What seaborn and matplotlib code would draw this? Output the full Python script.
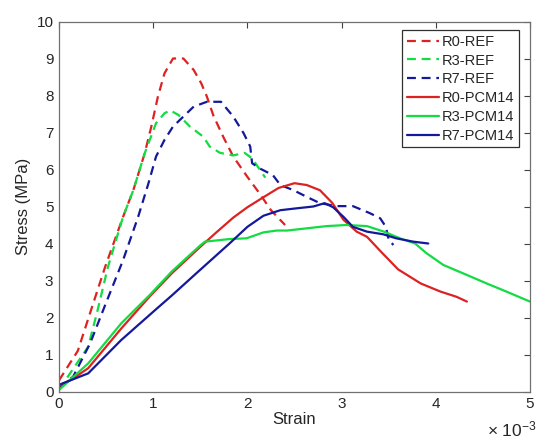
import numpy as np
import pandas as pd
import matplotlib
matplotlib.use("Agg")
import matplotlib.pyplot as plt
import seaborn as sns

# ---- data (strain in 1e-3, stress in MPa) ----
r0_ref_x = [0, 0.2, 0.34, 0.49, 0.68, 0.79, 0.91, 0.98, 1.05, 1.12, 1.21, 1.32, 1.43, 1.51, 1.57, 1.64,
            1.75, 1.85, 2.0, 2.13, 2.25, 2.4]
r0_ref_y = [0.3, 1.1, 2.2, 3.37, 4.72, 5.45, 6.44, 7.16, 7.97, 8.6, 9.0, 9.0, 8.69, 8.33, 7.97, 7.45,
            6.85, 6.35, 5.8, 5.35, 4.9, 4.5]

r3_ref_x = [0, 0.2, 0.31, 0.41, 0.52, 0.68, 0.79, 0.91, 1.03, 1.12, 1.18, 1.27, 1.39, 1.53, 1.6, 1.71,
            1.85, 1.97, 2.05, 2.19]
r3_ref_y = [0.05, 0.8, 1.21, 2.2, 3.37, 4.72, 5.45, 6.44, 7.25, 7.52, 7.6, 7.47, 7.16, 6.89, 6.62, 6.45,
            6.38, 6.45, 6.3, 5.78]

r7_ref_x = [0, 0.15, 0.33, 0.5, 0.68, 0.84, 0.95, 1.03, 1.12, 1.21, 1.32, 1.43, 1.57, 1.72, 1.85, 1.96,
            2.03, 2.05, 2.13, 2.27, 2.35, 2.49, 2.63, 2.77, 2.95, 3.12, 3.3, 3.41, 3.47, 3.5, 3.55]
r7_ref_y = [0.1, 0.4, 1.3, 2.4, 3.55, 4.72, 5.63, 6.35, 6.8, 7.16, 7.43, 7.7, 7.83, 7.83, 7.43, 6.98,
            6.62, 6.17, 6.03, 5.85, 5.58, 5.44, 5.26, 5.09, 5.01, 5.01, 4.82, 4.68, 4.45, 4.1, 3.96]

r0_pcm_x = [0, 0.15, 0.31, 0.66, 0.96, 1.2, 1.5, 1.67, 1.85, 2.0, 2.17, 2.33, 2.5, 2.63, 2.77, 2.9, 3.02,
            3.16, 3.27, 3.41, 3.6, 3.84, 4.05, 4.22, 4.33]
r0_pcm_y = [0.15, 0.35, 0.63, 1.7, 2.56, 3.2, 3.91, 4.3, 4.7, 4.98, 5.25, 5.5, 5.63, 5.58, 5.44, 5.1, 4.64,
            4.32, 4.18, 3.8, 3.3, 2.92, 2.7, 2.56, 2.43]

r3_pcm_x = [0, 0.31, 0.66, 0.96, 1.2, 1.5, 1.55, 1.81, 1.99, 2.17, 2.31, 2.42, 2.63, 2.84, 3.05, 3.27,
            3.45, 3.62, 3.78, 3.9, 4.08, 4.33, 4.54, 4.75, 5.0]
r3_pcm_y = [0.04, 0.76, 1.84, 2.6, 3.25, 3.95, 4.05, 4.12, 4.14, 4.3, 4.35, 4.35, 4.41, 4.47, 4.5, 4.47,
            4.32, 4.14, 4.0, 3.74, 3.42, 3.15, 2.92, 2.7, 2.43]

r7_pcm_x = [0, 0.31, 0.66, 1.02, 1.2, 1.46, 1.81, 2.0, 2.17, 2.35, 2.52, 2.7, 2.82, 2.91, 3.02, 3.12,
            3.27, 3.44, 3.58, 3.76, 3.92]
r7_pcm_y = [0.18, 0.49, 1.39, 2.2, 2.6, 3.2, 4.0, 4.45, 4.75, 4.9, 4.95, 5.0, 5.09, 4.98, 4.72, 4.45,
            4.32, 4.25, 4.14, 4.05, 4.0]

labels = ["R0-REF", "R3-REF", "R7-REF", "R0-PCM14", "R3-PCM14", "R7-PCM14"]
xticks = [0, 1, 2, 3, 4, 5]
yticks = [0, 1, 2, 3, 4, 5, 6, 7, 8, 9, 10]

series = [
    (r0_ref_x, r0_ref_y), (r3_ref_x, r3_ref_y), (r7_ref_x, r7_ref_y),
    (r0_pcm_x, r0_pcm_y), (r3_pcm_x, r3_pcm_y), (r7_pcm_x, r7_pcm_y),
]
colors = ["#dc2222", "#12dc42", "#14189a", "#dc2222", "#12dc42", "#14189a"]

sns.set_theme(style="white")
plt.rcParams["font.family"] = ["Liberation Sans", "DejaVu Sans"]
plt.rcParams["mathtext.fontset"] = "custom"
plt.rcParams["mathtext.rm"] = "Liberation Sans"
plt.rcParams["mathtext.it"] = "Liberation Sans:italic"

fig = plt.figure(figsize=(5.38, 4.42), dpi=100)
ax = fig.add_axes([59 / 538, 1 - 391.5 / 442, 471 / 538, 370 / 442])

for (xs, ys), lab, col in zip(series, labels, colors):
    df = pd.DataFrame({"Strain": xs, "Stress": ys})
    dashed = "PCM" not in lab
    sns.lineplot(data=df, x="Strain", y="Stress", ax=ax, color=col, sort=False,
                 estimator=None, label=lab, linewidth=1.6,
                 linestyle="--" if dashed else "-")

for line in ax.get_lines():
    if line.get_linestyle() == "--":
        line.set_dashes((4, 2.6))

ax.set_xlim(0, 5)
ax.set_ylim(0, 10)
ax.set_xticks(xticks)
ax.set_yticks(yticks)
ax.set_xticklabels([str(t) for t in xticks])
ax.set_yticklabels([str(t) for t in yticks])
ax.tick_params(direction="in", length=4, width=0.8, top=True, right=True,
               labelsize=11, colors="#404040", labelcolor="#262626", pad=4)
for sp in ax.spines.values():
    sp.set_color("#707070")
    sp.set_linewidth(0.9)
ax.set_xlabel("Strain", fontsize=12, color="#262626", labelpad=1)
ax.set_ylabel("Stress (MPa)", fontsize=12, color="#262626", labelpad=4)

leg = ax.legend(loc="upper right", bbox_to_anchor=(0.985, 0.988), fontsize=10.5,
                frameon=True, fancybox=False, edgecolor="#303030", framealpha=1,
                handlelength=2.2, handletextpad=0.2, borderpad=0.3, labelspacing=0.33,
                borderaxespad=0.3)
leg.get_frame().set_linewidth(0.9)
for line in leg.get_lines():
    if line.get_linestyle() == "--":
        line.set_dashes((4, 2.6))

fig.text(537 / 538, 1 - 429 / 442, r"$\times\ \mathregular{10^{-3}}$", ha="right", va="center",
         fontsize=12.5, color="#262626")

fig.savefig("out.png", dpi=100, facecolor="white")
